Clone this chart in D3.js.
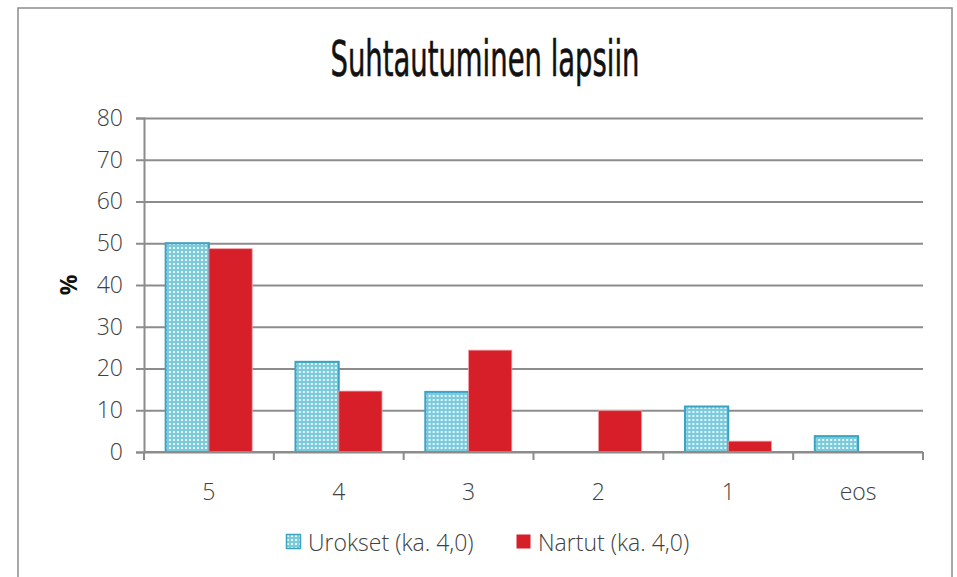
<!DOCTYPE html>
<html>
<head>
<meta charset="utf-8">
<script src="https://cdn.jsdelivr.net/npm/d3@7"></script>
<style>
  html, body { margin: 0; padding: 0; background: #fff; }
  svg { display: block; }
</style>
</head>
<body>
<div id="chart"></div>
<script>
// Suhtautuminen lapsiin — grouped bars, two series
var categories = ["5", "4", "3", "2", "1", "eos"];
var seriesNames = ["Urokset (ka. 4,0)", "Nartut (ka. 4,0)"];
var urokset = [50.0, 21.6, 14.4, 0, 10.9, 3.8];
var nartut = [48.7, 14.6, 24.4, 9.9, 2.6, 0];
var yTicks = [0, 10, 20, 30, 40, 50, 60, 70, 80];

var W = 957, H = 577;
var margin = { top: 118, right: 34, bottom: 125, left: 144 };
var width = W - margin.left - margin.right;
var height = H - margin.top - margin.bottom;
var labelFont = "'Open Sans', 'Noto Sans', sans-serif";

var svg = d3.select("#chart").append("svg")
    .attr("width", W)
    .attr("height", H);

// dotted fill for the first series
var defs = svg.append("defs");
var pat = defs.append("pattern")
    .attr("id", "dots")
    .attr("patternUnits", "userSpaceOnUse")
    .attr("width", 4).attr("height", 4);
pat.append("rect").attr("width", 4).attr("height", 4).attr("fill", "#7ccbdd");
pat.append("rect").attr("x", 1).attr("y", 1).attr("width", 2).attr("height", 2).attr("fill", "#e8f6fa");

// outer frame
svg.append("rect")
    .attr("x", 18).attr("y", 8)
    .attr("width", 934).attr("height", 600)
    .attr("fill", "none")
    .attr("stroke", "#8c8c8c")
    .attr("stroke-width", 1.5);

// title
svg.append("text")
    .attr("x", 485).attr("y", 76)
    .attr("text-anchor", "middle")
    .attr("font-family", "'Liberation Sans Narrow', 'DejaVu Sans Condensed', sans-serif")
    .attr("font-size", "50px")
    .attr("fill", "#111")
    .attr("stroke", "#111")
    .attr("stroke-width", 0.6)
    .attr("textLength", 309)
    .attr("lengthAdjust", "spacingAndGlyphs")
    .text("Suhtautuminen lapsiin");

var g = svg.append("g")
    .attr("transform", "translate(" + margin.left + "," + margin.top + ")");

var x0 = d3.scaleBand().domain(categories).range([0, width]).paddingInner(0).paddingOuter(0);
var x1 = d3.scaleBand().domain(seriesNames).range([0, x0.bandwidth()]).paddingInner(0).paddingOuter(0.5);
var y = d3.scaleLinear().domain([0, 80]).range([height, 0]);

// gridlines
g.append("g")
    .attr("class", "grid")
    .call(d3.axisLeft(y).tickValues(yTicks).tickSize(-width).tickFormat(""))
    .call(function (s) {
        s.select(".domain").remove();
        s.selectAll("line").attr("stroke", "#8c8c8c").attr("stroke-width", 2);
    });
// y axis
g.append("g")
    .call(d3.axisLeft(y).tickValues(yTicks).tickSize(8).tickPadding(13))
    .call(function (s) {
        s.select(".domain").attr("stroke", "#8c8c8c").attr("stroke-width", 2);
        s.selectAll("line").attr("stroke", "#8c8c8c").attr("stroke-width", 2);
        s.selectAll("text")
            .attr("font-family", labelFont)
            .attr("font-weight", 300)
            .attr("font-size", "23px")
            .attr("fill", "#404040");
    });

// bars
var rows = categories.map(function (c, i) {
    return { cat: c, vals: [urokset[i], nartut[i]] };
});
var grp = g.selectAll(".cat").data(rows).enter().append("g")
    .attr("transform", function (d) { return "translate(" + x0(d.cat) + ",0)"; });
grp.selectAll("rect")
    .data(function (d) {
        return d.vals.map(function (v, j) { return { s: seriesNames[j], v: v, j: j }; });
    })
    .enter().append("rect")
    .filter(function (d) { return d.v > 0; })
    .attr("x", function (d) { return x1(d.s); })
    .attr("y", function (d) { return y(d.v); })
    .attr("width", x1.bandwidth())
    .attr("height", function (d) { return height - y(d.v); })
    .attr("fill", function (d) { return d.j === 0 ? "url(#dots)" : "#d71f29"; })
    .attr("stroke", function (d) { return d.j === 0 ? "#3aa3c2" : "#f0a0a6"; })
    .attr("stroke-width", function (d) { return d.j === 0 ? 2 : 0.8; });

// x axis with boundary ticks
var xAxis = g.append("g").attr("transform", "translate(0," + height + ")");
xAxis.append("line")
    .attr("x1", 0).attr("x2", width)
    .attr("stroke", "#8c8c8c").attr("stroke-width", 2);
xAxis.selectAll(".bt").data(categories.concat(["end"])).enter().append("line")
    .attr("x1", function (d, i) { return i * x0.step(); })
    .attr("x2", function (d, i) { return i * x0.step(); })
    .attr("y1", 0).attr("y2", 8)
    .attr("stroke", "#8c8c8c").attr("stroke-width", 2);
xAxis.selectAll(".lbl").data(categories).enter().append("text")
    .attr("x", function (d) { return x0(d) + x0.bandwidth() / 2; })
    .attr("y", 48)
    .attr("text-anchor", "middle")
    .attr("font-family", labelFont)
    .attr("font-weight", 300)
    .attr("font-size", "23px")
    .attr("fill", "#404040")
    .text(function (d) { return d; });

// y axis title
svg.append("text")
    .attr("transform", "translate(77,285) rotate(-90)")
    .attr("text-anchor", "middle")
    .attr("font-family", labelFont)
    .attr("font-weight", "bold")
    .attr("font-size", "23px")
    .attr("fill", "#111")
    .text("%");

// legend
var legend = svg.append("g").attr("transform", "translate(286,534)");
var legX = [0, 230];
seriesNames.forEach(function (name, j) {
    var it = legend.append("g").attr("transform", "translate(" + legX[j] + ",0)");
    it.append("rect")
        .attr("x", 0.5).attr("y", 0.5)
        .attr("width", 14).attr("height", 14)
        .attr("fill", j === 0 ? "url(#dots)" : "#d71f29")
        .attr("stroke", j === 0 ? "#3aa3c2" : "none")
        .attr("stroke-width", 1.5);
    it.append("text")
        .attr("x", 22).attr("y", 17)
        .attr("font-family", labelFont)
        .attr("font-weight", 300)
        .attr("font-size", "23px")
        .attr("fill", "#404040")
        .text(name);
});
</script>
</body>
</html>
